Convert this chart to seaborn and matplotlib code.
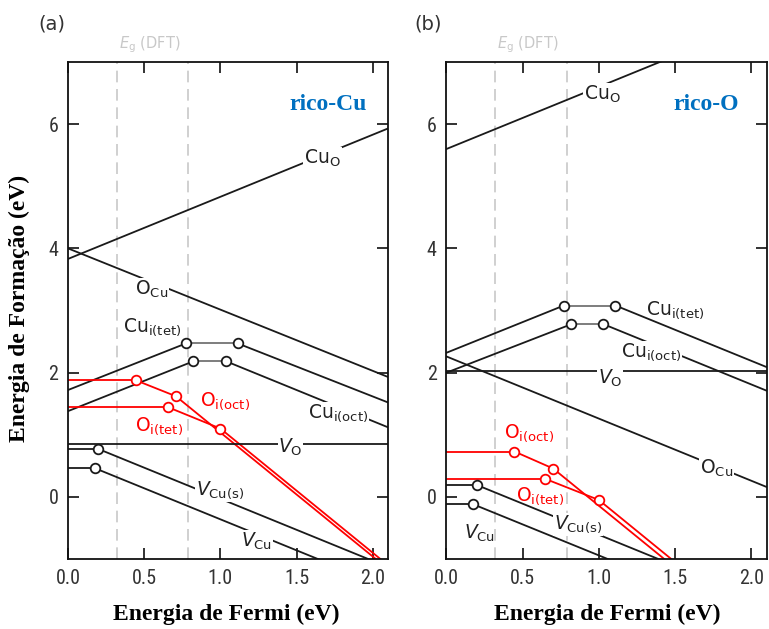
import matplotlib
matplotlib.use("Agg")
import matplotlib.pyplot as plt
import matplotlib.transforms as mtransforms
from matplotlib import font_manager
import seaborn as sns

sns.set_theme(style="white")
plt.rcParams["font.family"] = ["DejaVu Sans"]
plt.rcParams["mathtext.fontset"] = "custom"
plt.rcParams["mathtext.rm"] = "DejaVu Sans"
plt.rcParams["mathtext.it"] = "DejaVu Sans:italic"

# narrow face for the tick numbers when one is installed
_installed = {f.name for f in font_manager.fontManager.ttflist}
TICK_FAMILY = next((f for f in ["Liberation Sans Narrow", "Roboto Condensed",
                                "DejaVu Sans"] if f in _installed), "DejaVu Sans")

# Fermi-level window and DFT band-gap edges
FERMI_MAX = 2.1
GAP_EDGES = [0.32, 0.79]
X_TICKS = [0.0, 0.5, 1.0, 1.5, 2.0]
Y_TICKS = [0, 2, 4, 6]

# (a) Cu-rich: vertices (Fermi energy, formation energy) of each defect curve
a_labels = [r"Cu$_\mathrm{O}$", r"O$_\mathrm{Cu}$", r"Cu$_\mathrm{i(tet)}$",
            r"Cu$_\mathrm{i(oct)}$", r"O$_\mathrm{i(oct)}$", r"O$_\mathrm{i(tet)}$",
            r"$V_\mathrm{O}$", r"$V_\mathrm{Cu(s)}$", r"$V_\mathrm{Cu}$"]
a_ef = [[0.0, 2.1],
        [0.0, 2.1],
        [0.0, 0.774, 1.114, 2.1],
        [0.0, 0.82, 1.04, 2.1],
        [0.0, 0.447, 0.708, 2.1],
        [0.0, 0.653, 1.0, 2.1],
        [0.0, 2.1],
        [0.0, 0.2, 2.1],
        [0.0, 0.178, 2.1]]
a_energy = [[3.83, 5.93],
            [4.0, 1.93],
            [1.72, 2.47, 2.47, 1.52],
            [1.38, 2.18, 2.18, 1.12],
            [1.875, 1.875, 1.62, -1.16],
            [1.447, 1.447, 1.10, -1.10],
            [0.85, 0.85],
            [0.77, 0.77, -1.13],
            [0.46, 0.46, -1.46]]
a_colors = ["k", "k", "k", "k", "red", "red", "k", "k", "k"]
a_label_x = [1.67, 0.55, 0.55, 1.77, 1.03, 0.60, 1.46, 1.00, 1.24]
a_label_y = [5.45, 3.34, 2.72, 1.35, 1.54, 1.14, 0.80, 0.10, -0.71]
a_label_gap = [True, True, False, True, False, False, True, True, True]

# (b) O-rich
b_labels = [r"Cu$_\mathrm{O}$", r"Cu$_\mathrm{i(tet)}$", r"Cu$_\mathrm{i(oct)}$",
            r"$V_\mathrm{O}$", r"O$_\mathrm{Cu}$", r"O$_\mathrm{i(oct)}$",
            r"O$_\mathrm{i(tet)}$", r"$V_\mathrm{Cu(s)}$", r"$V_\mathrm{Cu}$"]
b_ef = [[0.0, 2.1],
        [0.0, 0.77, 1.109, 2.1],
        [0.0, 0.82, 1.03, 2.1],
        [0.0, 2.1],
        [0.0, 2.1],
        [0.0, 0.446, 0.70, 2.1],
        [0.0, 0.648, 1.0, 2.1],
        [0.0, 0.2, 2.1],
        [0.0, 0.176, 2.1]]
b_energy = [[5.6, 7.7],
            [2.32, 3.08, 3.08, 2.09],
            [2.0, 2.78, 2.78, 1.71],
            [2.02, 2.02],
            [2.26, 0.16],
            [0.73, 0.73, 0.456, -2.34],
            [0.29, 0.29, -0.05, -2.25],
            [0.19, 0.19, -1.71],
            [-0.12, -0.12, -2.04]]
b_colors = ["k", "k", "k", "k", "k", "red", "red", "k", "k"]
b_label_x = [1.02, 1.50, 1.34, 1.075, 1.77, 0.54, 0.615, 0.865, 0.22]
b_label_y = [6.48, 3.00, 2.33, 1.91, 0.46, 1.02, 0.00, -0.44, -0.59]
b_label_gap = [True, False, True, True, True, False, False, True, False]

LINE_W = 1.3
W, H = 769, 629
fig = plt.figure(figsize=(W / 100, H / 100), dpi=100)
ax_a = fig.add_axes([68 / W, 1 - 559 / H, 320 / W, 497 / H])
ax_b = fig.add_axes([446.5 / W, 1 - 559 / H, 320 / W, 497 / H])


def draw_panel(ax, labels, efs, energies, colors, lx, ly, gaps, tag):
    for ex in GAP_EDGES:
        ax.axvline(ex, color="#c8c8c8", lw=1.2, dashes=(7, 4), zorder=1)

    for xs, ys, c in zip(efs, energies, colors):
        n = len(xs)
        for i in range(n - 1):
            seg_c = c
            # neutral plateau between two transition levels
            if c == "k" and 0 < i and i + 1 < n - 1 and ys[i] == ys[i + 1]:
                seg_c = "0.45"
            sns.lineplot(x=[xs[i], xs[i + 1]], y=[ys[i], ys[i + 1]], ax=ax,
                         color=seg_c, lw=LINE_W, sort=False, estimator=None,
                         zorder=2)
        if n > 2:
            sns.scatterplot(x=xs[1:-1], y=ys[1:-1], ax=ax, s=48,
                            facecolor="white", edgecolor=c, linewidth=1.3,
                            zorder=4)

    for txt, x, y, c, gap in zip(labels, lx, ly, colors, gaps):
        kw = {}
        if gap:
            kw["bbox"] = dict(facecolor="white", edgecolor="none", pad=0.6)
        ax.text(x, y, txt, color=("red" if c == "red" else "#222222"),
                fontsize=13.5, ha="center", va="center", zorder=5, **kw)

    ax.set_xlim(0, FERMI_MAX)
    ax.set_ylim(-1, 7)
    ax.set_xticks(X_TICKS)
    ax.set_xticklabels([f"{v:.1f}" for v in X_TICKS])
    ax.set_yticks(Y_TICKS)
    ax.set_yticklabels([str(v) for v in Y_TICKS])
    ax.tick_params(direction="in", length=8, width=1.3, top=True, right=True,
                   bottom=True, left=True, labelsize=14.5, colors="#222222",
                   pad=7)
    for lab in ax.get_xticklabels() + ax.get_yticklabels():
        lab.set_fontfamily(TICK_FAMILY)
        lab.set_color("#333333")
    for sp in ax.spines.values():
        sp.set_color("#111111")
        sp.set_linewidth(1.3)
    ax.set_xlabel("")
    ax.set_ylabel("")

    trans = mtransforms.blended_transform_factory(ax.transData, ax.transAxes)
    ax.text(sum(GAP_EDGES) / 2 - 0.02, 1.034, r"$E_\mathrm{g}$ (DFT)",
            transform=trans, color="#c8c8c8", fontsize=10.5,
            ha="center", va="center")
    ax.text(0.5 * (GAP_EDGES[0] + GAP_EDGES[1]) + 1.15, 6.32, tag,
            color="#0070C0", fontfamily="Liberation Serif",
            fontweight="bold", fontsize=17, ha="center", va="center")


draw_panel(ax_a, a_labels, a_ef, a_energy, a_colors,
           a_label_x, a_label_y, a_label_gap, "rico-Cu")
draw_panel(ax_b, b_labels, b_ef, b_energy, b_colors,
           b_label_x, b_label_y, b_label_gap, "rico-O")

fig.text(52 / W, 1 - 24 / H, "(a)", fontsize=14, color="#333333",
         ha="center", va="center")
fig.text(428 / W, 1 - 24 / H, "(b)", fontsize=14, color="#333333",
         ha="center", va="center")

serif_bold = dict(fontfamily="Liberation Serif", fontweight="bold",
                  fontsize=17, color="black", ha="center", va="center")
fig.text(226 / W, 1 - 614 / H, "Energia de Fermi (eV)", **serif_bold)
fig.text(607 / W, 1 - 614 / H, "Energia de Fermi (eV)", **serif_bold)
fig.text(19 / W, 1 - 308 / H, "Energia de Formação (eV)", rotation=90,
         **serif_bold)

fig.savefig("out.png", dpi=100)
